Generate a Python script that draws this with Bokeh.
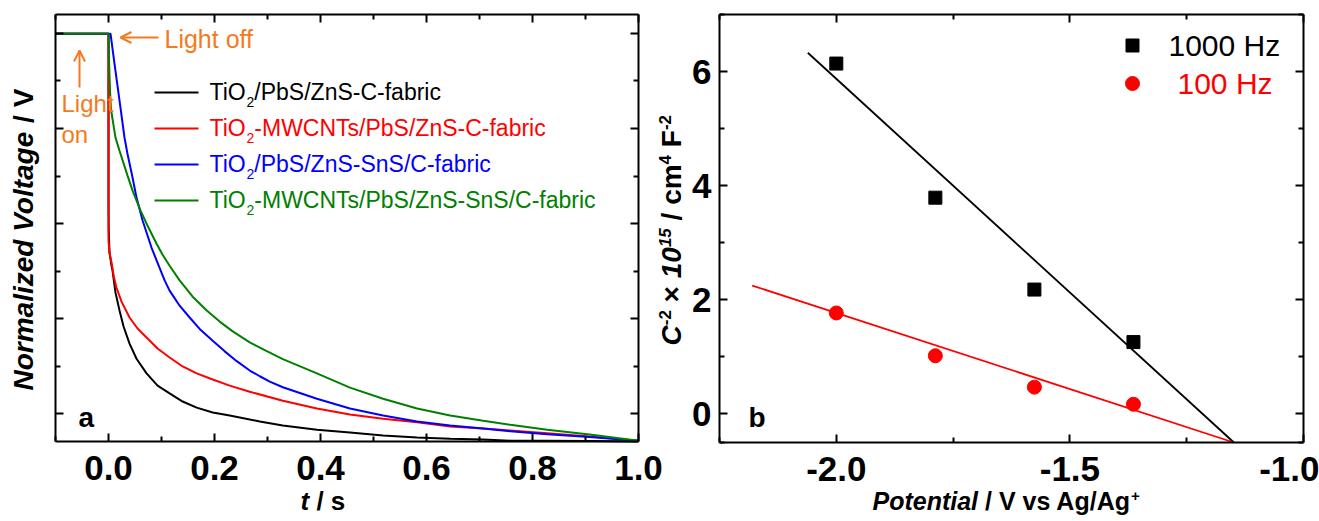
import math
from bokeh.plotting import figure
from bokeh.layouts import row
from bokeh.models import (Range1d, FixedTicker, LinearAxis, Label, Arrow,
                          OpenHead, CustomJSTickFormatter)
from bokeh.embed import file_html
from bokeh.resources import INLINE

FONT = "Liberation Sans"
ORANGE = "#F47A20"

# ---------------- (a) normalized voltage decay after switching the light off
t_black = [-0.1, 0.0, 0.0, 0.0004, 0.0019, 0.0057, 0.0076, 0.0132, 0.0208, 0.0284,
           0.0397, 0.0529, 0.0718, 0.0926, 0.1153, 0.1399, 0.1664, 0.1966, 0.2287,
           0.2854, 0.3289, 0.3932, 0.4556, 0.5180, 0.5822, 0.6446, 0.7070, 0.7580,
           0.8280, 0.9074, 1.0]
v_black = [1.0, 1.0, 0.591, 0.520, 0.463, 0.431, 0.419, 0.365, 0.321, 0.282,
           0.240, 0.203, 0.167, 0.137, 0.118, 0.098, 0.083, 0.071, 0.064,
           0.049, 0.039, 0.029, 0.022, 0.015, 0.010, 0.007, 0.005, 0.002,
           0.002, 0.001, 0.0]

t_red = [-0.1, 0.0, 0.0, 0.0019, 0.0057, 0.0104, 0.0151, 0.0246, 0.0397, 0.0548,
         0.0718, 0.0926, 0.1153, 0.1399, 0.1664, 0.1966, 0.2287, 0.2665, 0.3289,
         0.3932, 0.4556, 0.5180, 0.5822, 0.6446, 0.7070, 0.7580, 0.8280, 0.9074, 1.0]
v_red = [1.0, 1.0, 0.493, 0.463, 0.439, 0.402, 0.377, 0.343, 0.304, 0.277,
         0.255, 0.228, 0.206, 0.184, 0.167, 0.152, 0.137, 0.122, 0.100,
         0.081, 0.066, 0.056, 0.047, 0.037, 0.032, 0.027, 0.020, 0.012, 0.002]

t_blue = [-0.1, 0.0038, 0.0123, 0.0208, 0.0302, 0.0359, 0.0435, 0.0529, 0.0643,
          0.0813, 0.0907, 0.1059, 0.1153, 0.1342, 0.1531, 0.1720, 0.1966, 0.2193,
          0.2420, 0.2665, 0.2854, 0.3043, 0.3289, 0.3932, 0.4556, 0.5180, 0.5822,
          0.6446, 0.7070, 0.7580, 0.8280, 0.9074, 1.0]
v_blue = [1.0, 1.0, 0.917, 0.836, 0.745, 0.705, 0.659, 0.598, 0.542,
          0.475, 0.444, 0.395, 0.370, 0.333, 0.304, 0.276, 0.247, 0.221,
          0.197, 0.174, 0.160, 0.147, 0.133, 0.105, 0.081, 0.064, 0.049,
          0.039, 0.032, 0.025, 0.018, 0.011, 0.002]

t_green = [-0.1, 0.0, 0.001, 0.0028, 0.0051, 0.0095, 0.0132, 0.0208, 0.0265,
           0.0359, 0.0454, 0.0605, 0.0737, 0.0907, 0.1021, 0.1153, 0.1342, 0.1588,
           0.1853, 0.2098, 0.2344, 0.2665, 0.2949, 0.3289, 0.3932, 0.4556, 0.5180,
           0.5822, 0.6446, 0.7070, 0.7580, 0.8280, 0.9074, 1.0]
v_green = [1.0, 1.0, 0.934, 0.860, 0.811, 0.775, 0.745, 0.713, 0.690,
           0.652, 0.615, 0.566, 0.529, 0.485, 0.458, 0.431, 0.395, 0.355,
           0.321, 0.294, 0.270, 0.243, 0.224, 0.202, 0.167, 0.132, 0.105,
           0.081, 0.064, 0.051, 0.041, 0.029, 0.017, 0.002]

series_colors = ["#000000", "#FF0000", "#0000FF", "#008000"]
series_suffix = ["/PbS/ZnS-C-fabric", "-MWCNTs/PbS/ZnS-C-fabric",
                 "/PbS/ZnS-SnS/C-fabric", "-MWCNTs/PbS/ZnS-SnS/C-fabric"]

a_xlim = (-0.1, 1.0)
a_ylim = (0.0, 1.047)
a_xticks = [0.0, 0.2, 0.4, 0.6, 0.8, 1.0]
a_xminor = [-0.1, 0.1, 0.3, 0.5, 0.7, 0.9]
a_yticks = [1.0, 0.767, 0.534, 0.302, 0.069]
a_yminor = [0.884, 0.651, 0.418, 0.185]

# ---------------- (b) Mott-Schottky data
potential = [-2.0, -1.788, -1.576, -1.364]
c2_1000hz = [6.14, 3.79, 2.18, 1.26]
c2_100hz = [1.77, 1.02, 0.47, 0.17]
fit_x_1000hz = [-2.061, -1.149]
fit_y_1000hz = [6.33, -0.5]
fit_x_100hz = [-2.180, -1.149]
fit_y_100hz = [2.25, -0.5]

b_xlim = (-2.25, -1.0)
b_ylim = (-0.5, 7.0)
b_xticks = [-2.0, -1.5, -1.0]
b_xminor = [-2.25, -1.75, -1.25]
b_yticks = [0, 2, 4, 6]
b_yminor = [-0.5, 1, 3, 5, 7]

# Arial-compatible advance widths (em) used to chain text runs
REG = {'T': .611, 'i': .222, 'O': .778, '2': .556, 'L': .556, 'g': .556, 'h': .556,
       't': .278, ' ': .278, 'o': .556, 'f': .278, 'n': .556}
BOLD = {' ': .278, '/': .278, '\u00d7': .584, '-': .333, '+': .584, '.': .278,
        'C': .722, 'F': .611, 'c': .556, 'm': .889, 'P': .667, 'o': .611, 't': .333,
        'e': .556, 'n': .611, 'i': .278, 'a': .556, 'l': .278, 'V': .667, 'v': .556,
        's': .556, 'A': .722, 'g': .611, 'N': .722, 'r': .389, 'z': .5, 'd': .611}
BASELINE_FIX = 0.37   # lifts the rendered glyphs onto the requested baseline (em)


def text_width(s, size, bold):
    table = BOLD if bold else REG
    return sum(table.get(ch, 0.556) for ch in s) * size


def text_run(p, x, y, pieces, color="black", angle=0.0):
    """Draw consecutive text pieces (text, size, style, baseline shift)."""
    pos = 0.0
    for text, size, style, shift in pieces:
        bold = "bold" in style
        body = text.lstrip(" ")
        lead = text_width(text[:len(text) - len(body)], size, bold)
        rise = shift + BASELINE_FIX * size
        if angle:
            xo, yo = -rise, pos + lead
        else:
            xo, yo = pos + lead, rise
        p.add_layout(Label(x=x, y=y, text=body.rstrip(" "), text_font=FONT,
                           text_font_size=f"{size}px", text_font_style=style,
                           text_color=color, angle=angle, x_offset=xo, y_offset=yo,
                           text_align="left", text_baseline="alphabetic"))
        pos += text_width(text, size, bold)


def style_axis(axis, ticks, minor, labels, decimals=1):
    axis.ticker = FixedTicker(ticks=ticks, minor_ticks=minor)
    axis.axis_line_color = "black"
    axis.axis_line_width = 2
    axis.major_tick_in = 8
    axis.major_tick_out = 0
    axis.minor_tick_in = 5
    axis.minor_tick_out = 0
    axis.major_tick_line_color = "black"
    axis.minor_tick_line_color = "black"
    axis.major_tick_line_width = 2
    axis.minor_tick_line_width = 2
    if labels:
        axis.formatter = CustomJSTickFormatter(code=f"return tick.toFixed({decimals})")
        axis.major_label_text_font = FONT
        axis.major_label_text_font_style = "bold"
        axis.major_label_text_font_size = "35px"
        axis.major_label_text_color = "black"
    else:
        axis.formatter = CustomJSTickFormatter(code="return ''")
        axis.major_label_text_font_size = "1px"
        axis.major_label_standoff = 0


def boxed_axes(p, xlim, ylim, xt, xm, yt, ym, ylabels, xdec, ydec):
    """Four axes pinned to the edges of the plotting box."""
    bottom = LinearAxis(fixed_location=ylim[0], bounds=xlim)
    top = LinearAxis(fixed_location=ylim[1], bounds=xlim)
    left = LinearAxis(fixed_location=xlim[0], bounds=ylim)
    right = LinearAxis(fixed_location=xlim[1], bounds=ylim)
    style_axis(bottom, xt, xm, True, xdec)
    bottom.major_label_standoff = 14
    style_axis(top, xt, xm, False)
    style_axis(left, yt, ym, ylabels, ydec)
    left.major_label_standoff = 8
    style_axis(right, yt, ym, False)
    p.add_layout(bottom, "below")
    p.add_layout(top, "above")
    p.add_layout(left, "left")
    p.add_layout(right, "right")
    p.grid.visible = False
    p.outline_line_color = None
    p.background_fill_color = "white"
    p.border_fill_color = "white"


# ---------------- canvas geometry (pixels) of the two plotting boxes
A_W, B_W, H = 690, 629, 521
A_BOX = (55, 638, 14, 441)        # left, right, top, bottom (page pixels)
B_BOX = (719, 1303, 14, 442)

a_sx = (A_BOX[1] - A_BOX[0]) / (a_xlim[1] - a_xlim[0])
a_sy = (A_BOX[3] - A_BOX[2]) / (a_ylim[1] - a_ylim[0])
b_sx = (B_BOX[1] - B_BOX[0]) / (b_xlim[1] - b_xlim[0])
b_sy = (B_BOX[3] - B_BOX[2]) / (b_ylim[1] - b_ylim[0])


def ax(px):
    return a_xlim[0] + (px - A_BOX[0]) / a_sx


def ay(py):
    return a_ylim[0] + (A_BOX[3] - py) / a_sy


def bx(px):
    return b_xlim[0] + (px - B_BOX[0]) / b_sx


def by(py):
    return b_ylim[0] + (B_BOX[3] - py) / b_sy


# ================= panel (a)
p1 = figure(width=A_W, height=H, x_range=Range1d(ax(0), ax(A_W)),
            y_range=Range1d(ay(H), ay(0)), output_backend="svg", toolbar_location=None,
            x_axis_location=None, y_axis_location=None, min_border=0)
boxed_axes(p1, a_xlim, a_ylim, a_xticks, a_xminor, a_yticks, a_yminor, False, 1, 1)

for tt, vv, col in [(t_black, v_black, series_colors[0]), (t_red, v_red, series_colors[1]),
                    (t_blue, v_blue, series_colors[2]), (t_green, v_green, series_colors[3])]:
    p1.line(tt, vv, line_color=col, line_width=2)

# legend of panel (a)
for i, (col, suffix) in enumerate(zip(series_colors, series_suffix)):
    yc = 92 + 36 * i
    p1.line([ax(154), ax(198)], [ay(yc), ay(yc)], line_color=col, line_width=2)
    text_run(p1, ax(209), ay(yc + 8),
             [("TiO", 23, "normal", 0), ("2", 14, "normal", -7), (suffix, 23, "normal", 0)],
             color=col)

# light on / off markers
p1.add_layout(Arrow(end=OpenHead(size=11, line_color=ORANGE, line_width=2),
                    x_start=ax(158), y_start=ay(37), x_end=ax(120), y_end=ay(37),
                    line_color=ORANGE, line_width=2))
p1.add_layout(Arrow(end=OpenHead(size=11, line_color=ORANGE, line_width=2),
                    x_start=ax(79), y_start=ay(87), x_end=ax(79), y_end=ay(50),
                    line_color=ORANGE, line_width=2))
text_run(p1, ax(164), ay(48), [("Light off", 25, "normal", 0)], color=ORANGE)
text_run(p1, ax(61), ay(112), [("Light", 24, "normal", 0)], color=ORANGE)
text_run(p1, ax(61), ay(143), [("on", 24, "normal", 0)], color=ORANGE)

text_run(p1, ax(78), ay(427), [("a", 28, "bold", 0)])

# axis titles of panel (a)
text_run(p1, ax(300), ay(510), [("t", 26, "bold italic", 0), (" / s", 26, "bold", 0)])
text_run(p1, ax(33), ay(390), [("Normalized Voltage", 28, "bold italic", 0),
                               (" / V", 28, "bold", 0)], angle=math.pi / 2)

# y title of panel (b) sits in the gap between the panels
text_run(p1, ax(681), ay(345), [("C", 28, "bold italic", 0), ("-2", 17, "bold", 10),
                                (" \u00d7 ", 28, "bold", 0), ("10", 28, "bold italic", 0),
                                ("15", 17, "bold italic", 10), (" / cm", 28, "bold", 0),
                                ("4", 17, "bold", 10), (" F", 28, "bold", 0),
                                ("-2", 17, "bold", 10)], angle=math.pi / 2)

# ================= panel (b)
p2 = figure(width=B_W, height=H, x_range=Range1d(bx(A_W), bx(A_W + B_W)),
            y_range=Range1d(by(H), by(0)), output_backend="svg", toolbar_location=None,
            x_axis_location=None, y_axis_location=None, min_border=0)
boxed_axes(p2, b_xlim, b_ylim, b_xticks, b_xminor, b_yticks, b_yminor, True, 1, 0)

p2.line(fit_x_1000hz, fit_y_1000hz, line_color="black", line_width=1.8)
p2.line(fit_x_100hz, fit_y_100hz, line_color="red", line_width=1.8)
p2.scatter(potential, c2_1000hz, marker="square", size=13, color="black")
p2.scatter(potential, c2_100hz, marker="circle", size=14, color="red")

# legend of panel (b)
p2.scatter([bx(1132)], [by(45)], marker="square", size=13, color="black")
p2.scatter([bx(1132)], [by(83)], marker="circle", size=14, color="red")
text_run(p2, bx(1168), by(56), [("1000 Hz", 30, "normal", 0)])
text_run(p2, bx(1177), by(94), [("100 Hz", 30, "normal", 0)], color="red")

text_run(p2, bx(748), by(427), [("b", 28, "bold", 0)])
text_run(p2, bx(872), by(510), [("Potential", 25, "bold italic", 0),
                                (" / V vs Ag/Ag", 25, "bold", 0), ("+", 15, "bold", 9)])

layout = row(p1, p2)
open("out.html", "w").write(file_html(layout, INLINE))
